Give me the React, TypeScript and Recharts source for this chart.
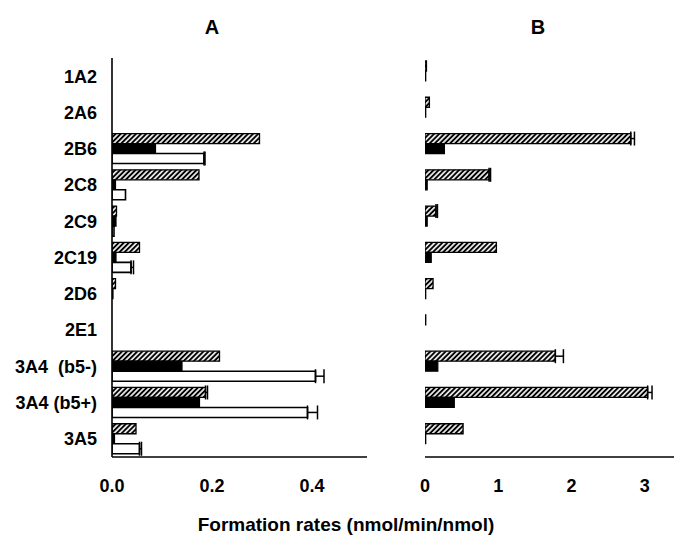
import React from 'react';
import { BarChart, Bar, XAxis, YAxis, ErrorBar } from 'recharts';

const categories = ['1A2', '2A6', '2B6', '2C8', '2C9', '2C19', '2D6', '2E1', '3A4\u00a0 (b5-)', '3A4 (b5+)', '3A5'];

// Panel A (hatched, black, white)
const aHatched = [0, 0, 0.295, 0.174, 0.009, 0.055, 0.007, 0, 0.215, 0.187, 0.048];
const aHatchedErr = [0, 0, 0, 0, 0, 0, 0, 0, 0, 0.004, 0];
const aBlack = [0, 0, 0.087, 0.007, 0.008, 0.008, 0.002, 0, 0.14, 0.175, 0.005];
const aWhite = [0, 0, 0.184, 0.027, 0.004, 0.038, 0, 0, 0.407, 0.391, 0.055];
const aWhiteErr = [0, 0, 0.002, 0, 0, 0.005, 0, 0, 0.017, 0.02, 0.004];

// Panel B
const bHatched = [0.02, 0.06, 2.81, 0.875, 0.15, 0.975, 0.11, 0.01, 1.78, 3.04, 0.52];
const bHatchedErr = [0, 0, 0.05, 0.02, 0.02, 0, 0, 0, 0.11, 0.06, 0];
const bBlack = [0.01, 0.01, 0.265, 0.03, 0.03, 0.085, 0.01, 0, 0.175, 0.4, 0.01];
const bWhite = [0, 0, 0, 0, 0, 0, 0, 0, 0, 0, 0];

const aTicks = [0, 0.2, 0.4];
const aTickLabels = ['0.0', '0.2', '0.4'];
const bTicks = [0, 1, 2, 3];

const err = (e: number) => (e > 0 ? [0, e] : null);

const dataA = categories.map((name, i) => ({
  name,
  h: aHatched[i],
  hErr: err(aHatchedErr[i]),
  k: aBlack[i],
  w: aWhite[i],
  wErr: err(aWhiteErr[i]),
}));

const dataB = categories.map((name, i) => ({
  name,
  h: bHatched[i],
  hErr: err(bHatchedErr[i]),
  k: bBlack[i],
  w: bWhite[i],
}));

const FONT = '"Liberation Sans", Arial, Helvetica, sans-serif';
const tickStyle = { fill: '#000', fontSize: 18, fontWeight: 'bold', fontFamily: FONT };
const axisLine = { stroke: '#000', strokeWidth: 1.6 };

const Hatch = () => (
  <defs>
    <pattern id="hatch" patternUnits="userSpaceOnUse" width="3.6" height="3.6" patternTransform="rotate(45)">
      <rect x="0" y="0" width="3.6" height="3.6" fill="#000" />
      <line x1="1.8" y1="0" x2="1.8" y2="3.6" stroke="#fff" strokeWidth="1.6" />
    </pattern>
  </defs>
);

export default function App() {
  return (
    <div style={{ position: 'absolute', left: 0, top: 0, width: 675, height: 553, background: '#fff' }}>
      <svg width={0} height={0} style={{ position: 'absolute' }}>
        <Hatch />
      </svg>
      <div style={{ position: 'absolute', left: 0, top: 0 }}>
        <BarChart
          width={400}
          height={553}
          data={dataA}
          layout="vertical"
          margin={{ top: 58, right: 33, left: 12, bottom: 56 }}
          barCategoryGap={3}
          barGap={0}
        >
          <Hatch />
          <XAxis
            type="number"
            domain={[0, 0.51]}
            ticks={aTicks}
            tickFormatter={(v: number) => aTickLabels[aTicks.indexOf(v)] ?? String(v)}
            axisLine={axisLine}
            tickLine={false}
            tick={tickStyle}
            tickMargin={16}
            height={40}
            allowDataOverflow
          />
          <YAxis
            type="category"
            dataKey="name"
            axisLine={axisLine}
            tickLine={false}
            tick={tickStyle}
            tickMargin={9}
            width={100}
            interval={0}
          />
          <Bar dataKey="h" fill="url(#hatch)" stroke="#000" strokeWidth={1.3} isAnimationActive={false}>
            <ErrorBar dataKey="hErr" direction="x" width={7} stroke="#000" strokeWidth={1.5} />
          </Bar>
          <Bar dataKey="k" fill="#000" stroke="#000" strokeWidth={1.2} isAnimationActive={false} />
          <Bar dataKey="w" fill="#fff" stroke="#000" strokeWidth={1.6} isAnimationActive={false}>
            <ErrorBar dataKey="wErr" direction="x" width={7} stroke="#000" strokeWidth={1.5} />
          </Bar>
        </BarChart>
      </div>
      <div style={{ position: 'absolute', left: 400, top: 0 }}>
        <BarChart
          width={275}
          height={553}
          data={dataB}
          layout="vertical"
          margin={{ top: 58, right: 1, left: 25, bottom: 56 }}
          barCategoryGap={3}
          barGap={0}
        >
          <Hatch />
          <XAxis
            type="number"
            domain={[0, 3.4]}
            ticks={bTicks}
            axisLine={axisLine}
            tickLine={false}
            tick={tickStyle}
            tickMargin={16}
            height={40}
            allowDataOverflow
          />
          <YAxis
            type="category"
            dataKey="name"
            axisLine={axisLine}
            tickLine={false}
            tick={false}
            width={0}
            interval={0}
          />
          <Bar dataKey="h" fill="url(#hatch)" stroke="#000" strokeWidth={1.3} isAnimationActive={false}>
            <ErrorBar dataKey="hErr" direction="x" width={7} stroke="#000" strokeWidth={1.5} />
          </Bar>
          <Bar dataKey="k" fill="#000" stroke="#000" strokeWidth={1.2} isAnimationActive={false} />
          <Bar dataKey="w" fill="#fff" stroke="#000" strokeWidth={1.6} isAnimationActive={false} />
        </BarChart>
      </div>
      <svg width={675} height={553} style={{ position: 'absolute', left: 0, top: 0, pointerEvents: 'none' }}>
        <text x={212} y={34} textAnchor="middle" fontFamily={FONT} fontWeight="bold" fontSize={20} fill="#000">A</text>
        <text x={538} y={34} textAnchor="middle" fontFamily={FONT} fontWeight="bold" fontSize={20} fill="#000">B</text>
        <text x={346} y={531} textAnchor="middle" fontFamily={FONT} fontWeight="bold" fontSize={19} fill="#000">
          Formation rates (nmol/min/nmol)
        </text>
      </svg>
    </div>
  );
}
